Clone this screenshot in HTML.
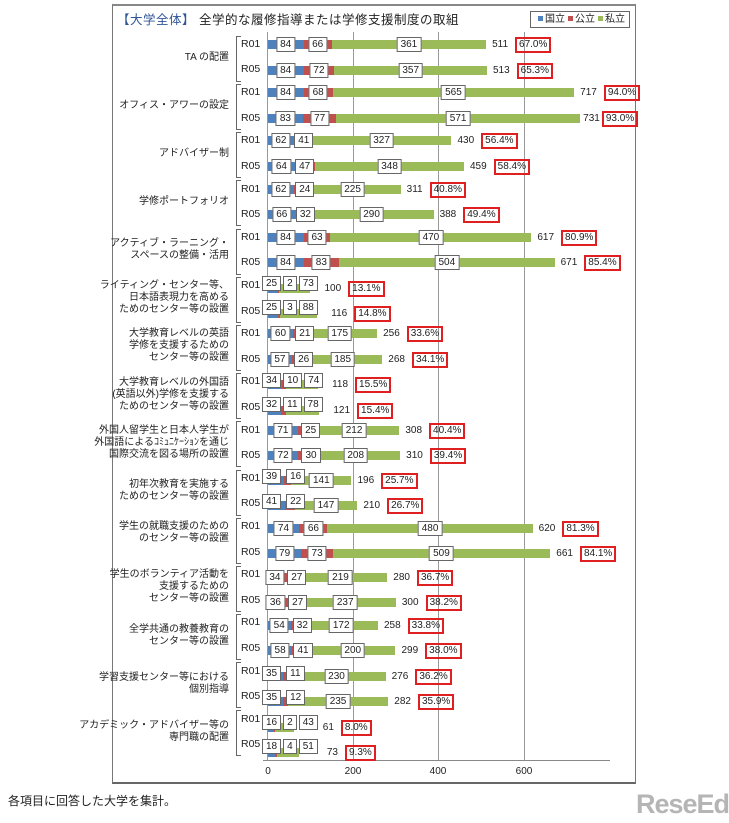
<!DOCTYPE html>
<html><head><meta charset="utf-8"><style>
body{margin:0;width:729px;height:823px;background:#fff;position:relative;overflow:hidden;font-family:"Liberation Sans","Noto Sans CJK JP",sans-serif;color:#222}
.frame{position:absolute;left:112px;top:4px;width:522px;height:776px;border:1px solid #777;border-top:2px solid #888;border-bottom:2px solid #666}
.title{position:absolute;left:117px;top:9px;font-size:12.5px;letter-spacing:0.5px}
.title b{color:#2f5597;font-weight:normal}
.legend{position:absolute;left:530px;top:11px;width:98px;height:15px;border:1px solid #666;font-size:10px;line-height:15px;text-align:center;white-space:nowrap}
.legend i{display:inline-block;width:5px;height:5px;margin:0 2px 1px 3px}
.grid{position:absolute;top:32px;height:728px;width:1px;background:#999}
.axis{position:absolute;left:263px;top:760px;width:347px;height:1px;background:#888}
.tick{position:absolute;top:766px;font-size:10px;width:30px;text-align:center}
.row{position:absolute;left:267.7px;height:9px;display:flex;align-items:center}
.s{position:relative;height:9px;flex:none}
.b{background:#4f81bd}.r{background:#c0504d}.g{background:#9bbb59}
.lb{position:absolute;z-index:2;left:50%;top:-3px;transform:translateX(-50%);background:#fff;border:1px solid #666;font-size:10px;line-height:13px;padding:0 3px;white-space:nowrap}
.lb.rr{transform:none}
.tot{font-size:10px;margin-left:6px;flex:none}
.pct{font-size:10px;margin-left:7px;border:2px solid #e02020;padding:0 2px;line-height:12px;flex:none}
.sm{position:absolute;left:262px;display:flex;gap:2px;z-index:3}
.sm span{background:#fff;border:1px solid #666;font-size:10px;line-height:13px;padding:0 3px}
.yr{position:absolute;left:241px;font-size:10.5px}
.cat{position:absolute;right:500px;font-size:10px;text-align:right;line-height:12px;white-space:nowrap}
.br{position:absolute;left:236px;width:4px;border:1px solid #666;border-right:none}
.note{position:absolute;left:8px;top:792px;font-size:12px}
.logo{position:absolute;left:636px;top:789px;font-size:27px;font-weight:bold;color:#b5b5b5;letter-spacing:-1px}
</style></head><body>
<div class="frame"></div>
<div class="title"><b>【大学全体】</b> 全学的な履修指導または学修支援制度の取組</div>
<div class="legend"><i class="b"></i>国立<i class="r"></i>公立<i class="g"></i>私立</div>
<div class="grid" style="left:267px"></div>
<div class="grid" style="left:353px"></div>
<div class="grid" style="left:438px"></div>
<div class="grid" style="left:524px"></div>
<div class="axis"></div>
<div class="tick" style="left:253px">0</div>
<div class="tick" style="left:338px">200</div>
<div class="tick" style="left:423px">400</div>
<div class="tick" style="left:509px">600</div>

<div class="cat" style="top:52px">TA の配置</div>
<div class="cat" style="top:100px">オフィス・アワーの設定</div>
<div class="cat" style="top:148px">アドバイザー制</div>
<div class="cat" style="top:196px">学修ポートフォリオ</div>
<div class="cat" style="top:238px">アクティブ・ラーニング・<br>スペースの整備・活用</div>
<div class="cat" style="top:280px">ライティング・センター等、<br>日本語表現力を高める<br>ためのセンター等の設置</div>
<div class="cat" style="top:328px">大学教育レベルの英語<br>学修を支援するための<br>センター等の設置</div>
<div class="cat" style="top:377px">大学教育レベルの外国語<br>(英語以外)学修を支援する<br>ためのセンター等の設置</div>
<div class="cat" style="top:425px">外国人留学生と日本人学生が<br>外国語によるｺﾐｭﾆｹｰｼｮﾝを通じ<br>国際交流を図る場所の設置</div>
<div class="cat" style="top:479px">初年次教育を実施する<br>ためのセンター等の設置</div>
<div class="cat" style="top:521px">学生の就職支援のための<br>のセンター等の設置</div>
<div class="cat" style="top:569px">学生のボランティア活動を<br>支援するための<br>センター等の設置</div>
<div class="cat" style="top:624px">全学共通の教養教育の<br>センター等の設置</div>
<div class="cat" style="top:672px">学習支援センター等における<br>個別指導</div>
<div class="cat" style="top:720px">アカデミック・アドバイザー等の<br>専門職の配置</div>

<div class="br" style="top:36px;height:44px"></div><div class="br" style="top:84px;height:44px"></div>
<div class="br" style="top:132px;height:44px"></div><div class="br" style="top:180px;height:44px"></div>
<div class="br" style="top:229px;height:44px"></div><div class="br" style="top:277px;height:44px"></div>
<div class="br" style="top:325px;height:44px"></div><div class="br" style="top:373px;height:44px"></div>
<div class="br" style="top:421px;height:44px"></div><div class="br" style="top:470px;height:44px"></div>
<div class="br" style="top:518px;height:44px"></div><div class="br" style="top:566px;height:44px"></div>
<div class="br" style="top:614px;height:44px"></div><div class="br" style="top:662px;height:44px"></div>
<div class="br" style="top:710px;height:44px"></div>

<div class="yr" style="top:38px">R01</div><div class="yr" style="top:63px">R05</div>
<div class="yr" style="top:86px">R01</div><div class="yr" style="top:112px">R05</div>
<div class="yr" style="top:134px">R01</div><div class="yr" style="top:160px">R05</div>
<div class="yr" style="top:183px">R01</div><div class="yr" style="top:208px">R05</div>
<div class="yr" style="top:231px">R01</div><div class="yr" style="top:256px">R05</div>
<div class="yr" style="top:279px">R01</div><div class="yr" style="top:305px">R05</div>
<div class="yr" style="top:327px">R01</div><div class="yr" style="top:353px">R05</div>
<div class="yr" style="top:375px">R01</div><div class="yr" style="top:401px">R05</div>
<div class="yr" style="top:424px">R01</div><div class="yr" style="top:449px">R05</div>
<div class="yr" style="top:472px">R01</div><div class="yr" style="top:497px">R05</div>
<div class="yr" style="top:520px">R01</div><div class="yr" style="top:546px">R05</div>
<div class="yr" style="top:568px">R01</div><div class="yr" style="top:594px">R05</div>
<div class="yr" style="top:616px">R01</div><div class="yr" style="top:642px">R05</div>
<div class="yr" style="top:665px">R01</div><div class="yr" style="top:690px">R05</div>
<div class="yr" style="top:713px">R01</div><div class="yr" style="top:738px">R05</div>

<div class="row" style="top:40px"><div class="s b" style="width:35.9px"><span class="lb">84</span></div><div class="s r" style="width:28.2px"><span class="lb">66</span></div><div class="s g" style="width:154.3px"><span class="lb">361</span></div><span class="tot">511</span><span class="pct">67.0%</span></div>
<div class="row" style="top:66px"><div class="s b" style="width:35.9px"><span class="lb">84</span></div><div class="s r" style="width:30.8px"><span class="lb">72</span></div><div class="s g" style="width:152.6px"><span class="lb">357</span></div><span class="tot">513</span><span class="pct">65.3%</span></div>

<div class="row" style="top:88px"><div class="s b" style="width:35.9px"><span class="lb">84</span></div><div class="s r" style="width:29.1px"><span class="lb">68</span></div><div class="s g" style="width:241.5px"><span class="lb">565</span></div><span class="tot">717</span><span class="pct">94.0%</span></div>
<div class="row" style="top:114px"><div class="s b" style="width:35.5px"><span class="lb">83</span></div><div class="s r" style="width:32.9px"><span class="lb">77</span></div><div class="s g" style="width:244.1px"><span class="lb">571</span></div><span class="tot" style="margin-left:3px">731</span><span class="pct" style="margin-left:2px">93.0%</span></div>

<div class="row" style="top:136px"><div class="s b" style="width:26.5px"><span class="lb">62</span></div><div class="s r" style="width:17.5px"><span class="lb rr" style="left:0">41</span></div><div class="s g" style="width:139.8px"><span class="lb">327</span></div><span class="tot">430</span><span class="pct">56.4%</span></div>
<div class="row" style="top:162px"><div class="s b" style="width:27.4px"><span class="lb">64</span></div><div class="s r" style="width:20.1px"><span class="lb rr" style="left:0">47</span></div><div class="s g" style="width:148.8px"><span class="lb">348</span></div><span class="tot">459</span><span class="pct">58.4%</span></div>

<div class="row" style="top:185px"><div class="s b" style="width:26.5px"><span class="lb">62</span></div><div class="s r" style="width:10.3px"><span class="lb rr" style="left:1px">24</span></div><div class="s g" style="width:96.2px"><span class="lb">225</span></div><span class="tot">311</span><span class="pct">40.8%</span></div>
<div class="row" style="top:210px"><div class="s b" style="width:28.2px"><span class="lb">66</span></div><div class="s r" style="width:13.7px"><span class="lb rr" style="left:0">32</span></div><div class="s g" style="width:124px"><span class="lb">290</span></div><span class="tot">388</span><span class="pct">49.4%</span></div>

<div class="row" style="top:233px"><div class="s b" style="width:35.9px"><span class="lb">84</span></div><div class="s r" style="width:26.9px"><span class="lb">63</span></div><div class="s g" style="width:200.9px"><span class="lb">470</span></div><span class="tot">617</span><span class="pct">80.9%</span></div>
<div class="row" style="top:258px"><div class="s b" style="width:35.9px"><span class="lb">84</span></div><div class="s r" style="width:35.5px"><span class="lb">83</span></div><div class="s g" style="width:215.5px"><span class="lb">504</span></div><span class="tot">671</span><span class="pct">85.4%</span></div>

<div class="row" style="top:284px"><div class="s b" style="width:10.7px"></div><div class="s r" style="width:0.9px"></div><div class="s g" style="width:31.2px"></div><span class="tot" style="margin-left:14px">100</span><span class="pct">13.1%</span></div>
<div class="sm" style="top:276px"><span>25</span><span>2</span><span>73</span></div>
<div class="row" style="top:309px"><div class="s b" style="width:10.7px"></div><div class="s r" style="width:1.3px"></div><div class="s g" style="width:37.6px"></div><span class="tot" style="margin-left:14px">116</span><span class="pct">14.8%</span></div>
<div class="sm" style="top:300px"><span>25</span><span>3</span><span>88</span></div>

<div class="row" style="top:329px"><div class="s b" style="width:25.6px"><span class="lb">60</span></div><div class="s r" style="width:9px"><span class="lb rr" style="left:2px">21</span></div><div class="s g" style="width:74.8px"><span class="lb">175</span></div><span class="tot">256</span><span class="pct">33.6%</span></div>
<div class="row" style="top:355px"><div class="s b" style="width:24.4px"><span class="lb">57</span></div><div class="s r" style="width:11.1px"><span class="lb rr" style="left:2px">26</span></div><div class="s g" style="width:79.1px"><span class="lb">185</span></div><span class="tot">268</span><span class="pct">34.1%</span></div>

<div class="row" style="top:380px"><div class="s b" style="width:14.5px"></div><div class="s r" style="width:4.3px"></div><div class="s g" style="width:31.6px"></div><span class="tot" style="margin-left:14px">118</span><span class="pct">15.5%</span></div>
<div class="sm" style="top:373px"><span>34</span><span>10</span><span>74</span></div>
<div class="row" style="top:406px"><div class="s b" style="width:13.7px"></div><div class="s r" style="width:4.7px"></div><div class="s g" style="width:33.3px"></div><span class="tot" style="margin-left:14px">121</span><span class="pct">15.4%</span></div>
<div class="sm" style="top:397px"><span>32</span><span>11</span><span>78</span></div>

<div class="row" style="top:426px"><div class="s b" style="width:30.4px"><span class="lb">71</span></div><div class="s r" style="width:10.7px"><span class="lb rr" style="left:3px">25</span></div><div class="s g" style="width:90.6px"><span class="lb">212</span></div><span class="tot">308</span><span class="pct">40.4%</span></div>
<div class="row" style="top:451px"><div class="s b" style="width:30.8px"><span class="lb">72</span></div><div class="s r" style="width:12.8px"><span class="lb rr" style="left:3px">30</span></div><div class="s g" style="width:88.9px"><span class="lb">208</span></div><span class="tot">310</span><span class="pct">39.4%</span></div>

<div class="row" style="top:476px"><div class="s b" style="width:16.7px"></div><div class="s r" style="width:6.8px"></div><div class="s g" style="width:60.3px"><span class="lb">141</span></div><span class="tot">196</span><span class="pct">25.7%</span></div>
<div class="sm" style="top:469px;gap:5px"><span>39</span><span>16</span></div>
<div class="row" style="top:501px"><div class="s b" style="width:17.5px"></div><div class="s r" style="width:9.4px"></div><div class="s g" style="width:62.8px"><span class="lb">147</span></div><span class="tot">210</span><span class="pct">26.7%</span></div>
<div class="sm" style="top:494px;gap:5px"><span>41</span><span>22</span></div>

<div class="row" style="top:524px"><div class="s b" style="width:31.6px"><span class="lb">74</span></div><div class="s r" style="width:28.2px"><span class="lb">66</span></div><div class="s g" style="width:205.2px"><span class="lb">480</span></div><span class="tot">620</span><span class="pct">81.3%</span></div>
<div class="row" style="top:549px"><div class="s b" style="width:33.8px"><span class="lb">79</span></div><div class="s r" style="width:31.2px"><span class="lb">73</span></div><div class="s g" style="width:217.6px"><span class="lb">509</span></div><span class="tot">661</span><span class="pct">84.1%</span></div>

<div class="row" style="top:573px"><div class="s b" style="width:14.5px"><span class="lb">34</span></div><div class="s r" style="width:11.5px"><span class="lb rr" style="left:5px">27</span></div><div class="s g" style="width:93.6px"><span class="lb">219</span></div><span class="tot">280</span><span class="pct">36.7%</span></div>
<div class="row" style="top:598px"><div class="s b" style="width:15.4px"><span class="lb">36</span></div><div class="s r" style="width:11.5px"><span class="lb rr" style="left:5px">27</span></div><div class="s g" style="width:101.3px"><span class="lb">237</span></div><span class="tot">300</span><span class="pct">38.2%</span></div>

<div class="row" style="top:621px"><div class="s b" style="width:23.1px"><span class="lb">54</span></div><div class="s r" style="width:13.7px"><span class="lb rr" style="left:2px">32</span></div><div class="s g" style="width:73.5px"><span class="lb">172</span></div><span class="tot">258</span><span class="pct">33.8%</span></div>
<div class="row" style="top:646px"><div class="s b" style="width:24.8px"><span class="lb">58</span></div><div class="s r" style="width:17.5px"><span class="lb rr" style="left:1px">41</span></div><div class="s g" style="width:85.5px"><span class="lb">200</span></div><span class="tot">299</span><span class="pct">38.0%</span></div>

<div class="row" style="top:672px"><div class="s b" style="width:15px"></div><div class="s r" style="width:4.7px"></div><div class="s g" style="width:98.3px"><span class="lb">230</span></div><span class="tot">276</span><span class="pct">36.2%</span></div>
<div class="sm" style="top:666px;gap:5px"><span>35</span><span>11</span></div>
<div class="row" style="top:697px"><div class="s b" style="width:15px"></div><div class="s r" style="width:5.1px"></div><div class="s g" style="width:100.5px"><span class="lb">235</span></div><span class="tot">282</span><span class="pct">35.9%</span></div>
<div class="sm" style="top:690px;gap:5px"><span>35</span><span>12</span></div>

<div class="row" style="top:723px"><div class="s b" style="width:6.8px"></div><div class="s r" style="width:0.9px"></div><div class="s g" style="width:18.4px"></div><span class="tot" style="margin-left:29px">61</span><span class="pct">8.0%</span></div>
<div class="sm" style="top:715px"><span>16</span><span>2</span><span>43</span></div>
<div class="row" style="top:748px"><div class="s b" style="width:7.7px"></div><div class="s r" style="width:1.7px"></div><div class="s g" style="width:21.8px"></div><span class="tot" style="margin-left:28px">73</span><span class="pct">9.3%</span></div>
<div class="sm" style="top:739px"><span>18</span><span>4</span><span>51</span></div>

<div class="note">各項目に回答した大学を集計。</div>
<div class="logo">ReseEd</div>
</body></html>
